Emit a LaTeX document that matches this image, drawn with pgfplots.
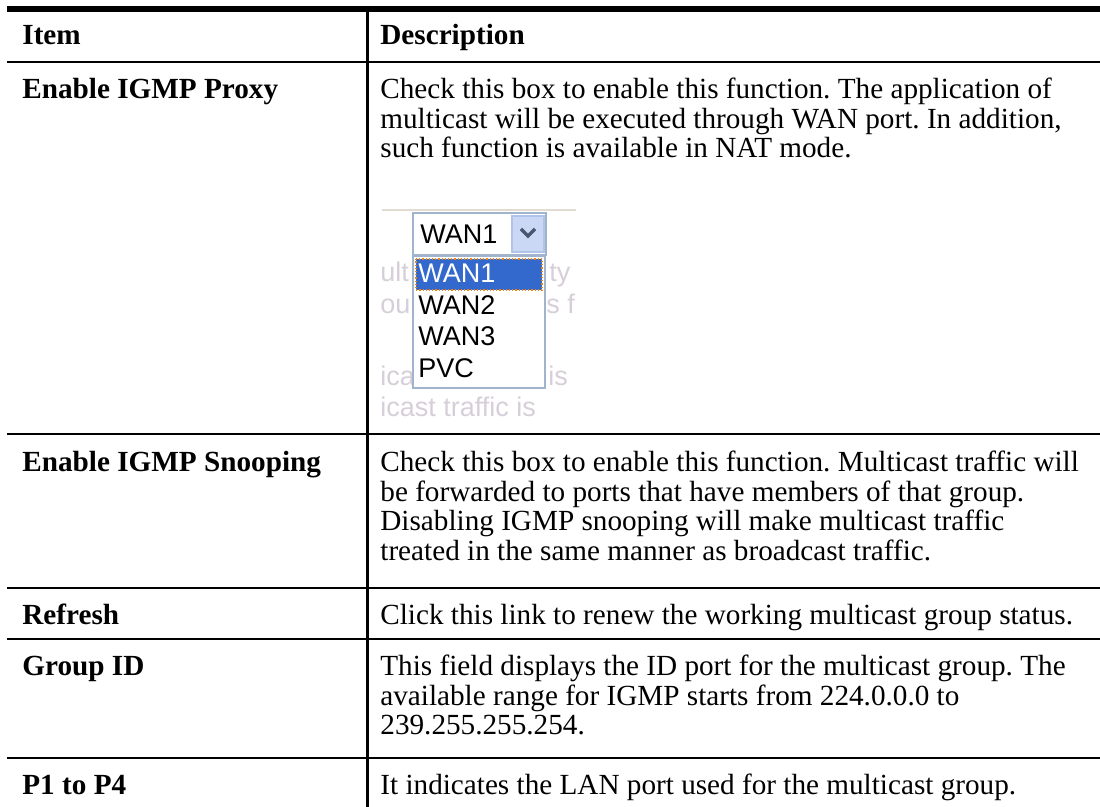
\documentclass[border=0pt]{standalone}
\usepackage{fontspec}
\setmainfont{Liberation Serif}
\newfontfamily\uisans{Liberation Sans}
\usepackage{pgfplots}
\pgfplotsset{compat=1.18}
\frenchspacing
\definecolor{faded}{RGB}{214,206,216}
\definecolor{selblue}{RGB}{51,104,204}
\definecolor{boxedge}{RGB}{160,180,205}
\definecolor{btnfill}{RGB}{202,216,246}
\definecolor{btnedge}{RGB}{176,196,232}
\definecolor{arrowc}{RGB}{72,86,112}
\definecolor{shadecol}{RGB}{226,220,208}
\tikzset{
  desc/.style={anchor=base west, inner sep=0pt, font=\fontsize{14.6}{16}\selectfont},
  item/.style={anchor=base west, inner sep=0pt, font=\fontsize{14.6}{16}\selectfont\bfseries},
  ui/.style={anchor=base west, inner sep=0pt, font=\uisans\fontsize{13.5}{15}\selectfont},
}
\begin{document}
\begin{tikzpicture}
\useasboundingbox (0,0) rectangle (550pt,403.5pt);
\begin{axis}[
  width=550pt, height=403.5pt, scale only axis,
  xmin=0, xmax=1100, ymin=0, ymax=807, y dir=reverse,
  hide axis, clip=false,
]
% table rules
\addplot[black, line width=2.7pt, forget plot] coordinates {(7,9) (1100,9)};
\addplot[black, line width=1.3pt, forget plot] coordinates {(7,62) (1100,62)};
\addplot[black, line width=1.3pt, forget plot] coordinates {(7,434) (1100,434)};
\addplot[black, line width=1.3pt, forget plot] coordinates {(7,588) (1100,588)};
\addplot[black, line width=1.3pt, forget plot] coordinates {(7,639) (1100,639)};
\addplot[black, line width=1.3pt, forget plot] coordinates {(7,758) (1100,758)};
\addplot[black, line width=1.5pt, forget plot] coordinates {(367,9) (367,807)};

% header
\node[item] at (axis cs:22,45) {Item};
\node[item] at (axis cs:380,45) {Description};

% row 1
\node[item] at (axis cs:22,99) {Enable IGMP Proxy};
\node[desc] at (axis cs:380,99) {Check this box to enable this function. The application of};
\node[desc] at (axis cs:380,128.5) {multicast will be executed through WAN port. In addition,};
\node[desc] at (axis cs:380,158) {such function is available in NAT mode.};

% dropdown screenshot
\addplot[shadecol, line width=1.4pt, forget plot] coordinates {(382,210) (576,210)};
\node[ui, text=faded] at (axis cs:380,282) {ult};
\node[ui, text=faded] at (axis cs:549,282) {ty};
\node[ui, text=faded] at (axis cs:380,313.5) {ou};
\node[ui, text=faded] at (axis cs:546,313.5) {s f};
\node[ui, text=faded] at (axis cs:380,386) {ica};
\node[ui, text=faded] at (axis cs:548,386) {is};
\node[ui, text=faded] at (axis cs:380,417) {icast traffic is};
\addplot[draw=boxedge, fill=white, line width=0.7pt, forget plot] coordinates {(413,213) (546,213) (546,255) (413,255)} -- cycle;
\addplot[draw=btnedge, fill=btnfill, line width=0.6pt, forget plot] coordinates {(512,216) (544,216) (544,252) (512,252)} -- cycle;
\addplot[arrowc, line width=1.6pt, forget plot] coordinates {(521,229) (528,236) (535,229)};
\node[ui] at (axis cs:420,244) {WAN1};
\addplot[draw=boxedge, fill=white, line width=0.7pt, forget plot] coordinates {(413,256) (545,256) (545,388) (413,388)} -- cycle;
\addplot[draw=orange!80!brown, densely dotted, fill=selblue, line width=0.6pt, forget plot] coordinates {(416,259) (542,259) (542,290) (416,290)} -- cycle;
\node[ui, text=white] at (axis cs:418,283) {WAN1};
\node[ui] at (axis cs:418,315) {WAN2};
\node[ui] at (axis cs:418,346) {WAN3};
\node[ui] at (axis cs:418,378) {PVC};

% row 2
\node[item] at (axis cs:22,472) {Enable IGMP Snooping};
\node[desc] at (axis cs:380,472) {Check this box to enable this function. Multicast traffic will};
\node[desc] at (axis cs:380,501.5) {be forwarded to ports that have members of that group.};
\node[desc] at (axis cs:380,531) {Disabling IGMP snooping will make multicast traffic};
\node[desc] at (axis cs:380,560.5) {treated in the same manner as broadcast traffic.};

% row 3
\node[item] at (axis cs:22,625) {Refresh};
\node[desc] at (axis cs:380,625) {Click this link to renew the working multicast group status.};

% row 4
\node[item] at (axis cs:22,676) {Group ID};
\node[desc] at (axis cs:380,676) {This field displays the ID port for the multicast group. The};
\node[desc] at (axis cs:380,705.5) {available range for IGMP starts from 224.0.0.0 to};
\node[desc] at (axis cs:380,735) {239.255.255.254.};

% row 5
\node[item] at (axis cs:22,795) {P1 to P4};
\node[desc] at (axis cs:380,795) {It indicates the LAN port used for the multicast group.};
\end{axis}
\end{tikzpicture}
\end{document}
